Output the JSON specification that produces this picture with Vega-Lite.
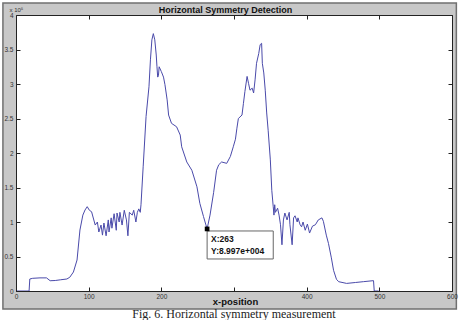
{
  "$schema": "https://vega.github.io/schema/vega-lite/v6.json",
  "width": 436,
  "height": 276,
  "autosize": {"type": "none"},
  "padding": {"left": 16, "top": 15, "right": 8, "bottom": 29},
  "background": "white",
  "config": {
    "view": {"stroke": null},
    "axis": {"grid": false, "labelFont": "Liberation Sans", "titleFont": "Liberation Sans", "domainColor": "#222222", "tickColor": "#222222", "labelColor": "#333333", "labelFontSize": 6.5, "labelFlush": false, "labelOverlap": false}
  },
  "title": {"text": "Fig. 6. Horizontal symmetry measurement", "orient": "bottom", "font": "Liberation Serif", "fontSize": 12, "fontWeight": "normal", "color": "#222222", "anchor": "middle", "offset": -1},
  "datasets": {
    "curve": [
      {"x": 0, "y": 0}, {"x": 18, "y": 0}, {"x": 19, "y": 17400}, {"x": 23, "y": 18400}, {"x": 33, "y": 19000},
      {"x": 42, "y": 19000}, {"x": 47, "y": 14900}, {"x": 54, "y": 15200}, {"x": 61, "y": 16200}, {"x": 70, "y": 17400},
      {"x": 74, "y": 19900}, {"x": 79, "y": 27500}, {"x": 84, "y": 44900}, {"x": 88, "y": 88400}, {"x": 92, "y": 110000},
      {"x": 95, "y": 117400}, {"x": 98, "y": 122200}, {"x": 101, "y": 117000}, {"x": 104, "y": 114900}, {"x": 109, "y": 95600},
      {"x": 112, "y": 100000}, {"x": 114, "y": 85500}, {"x": 117, "y": 95600}, {"x": 119, "y": 81000}, {"x": 121, "y": 98500},
      {"x": 124, "y": 80000}, {"x": 127, "y": 103000}, {"x": 128, "y": 85500}, {"x": 131, "y": 106000}, {"x": 132, "y": 91000},
      {"x": 135, "y": 112000}, {"x": 138, "y": 88000}, {"x": 139, "y": 113000}, {"x": 142, "y": 100000}, {"x": 143, "y": 114000},
      {"x": 146, "y": 95600}, {"x": 149, "y": 117000}, {"x": 152, "y": 103000}, {"x": 154, "y": 80000}, {"x": 156, "y": 114000},
      {"x": 160, "y": 110000}, {"x": 162, "y": 117000}, {"x": 165, "y": 100000}, {"x": 167, "y": 114000}, {"x": 169, "y": 119000},
      {"x": 171, "y": 114000}, {"x": 172, "y": 125000}, {"x": 175, "y": 180000}, {"x": 179, "y": 253000}, {"x": 183, "y": 296000},
      {"x": 185, "y": 335000}, {"x": 187, "y": 364000}, {"x": 189, "y": 373000}, {"x": 191, "y": 364000}, {"x": 193, "y": 342000},
      {"x": 194, "y": 325000}, {"x": 195, "y": 310000}, {"x": 196, "y": 312000}, {"x": 197, "y": 325000}, {"x": 200, "y": 318000},
      {"x": 203, "y": 310000}, {"x": 205, "y": 299000}, {"x": 208, "y": 277000}, {"x": 210, "y": 255000}, {"x": 214, "y": 243000},
      {"x": 221, "y": 238000}, {"x": 226, "y": 226000}, {"x": 228, "y": 209000}, {"x": 235, "y": 187000}, {"x": 242, "y": 175000},
      {"x": 249, "y": 151000}, {"x": 253, "y": 127000}, {"x": 258, "y": 108000}, {"x": 261, "y": 97000}, {"x": 263, "y": 89970},
      {"x": 267, "y": 110000}, {"x": 272, "y": 143000}, {"x": 276, "y": 175000}, {"x": 279, "y": 183000}, {"x": 283, "y": 187000},
      {"x": 290, "y": 185000}, {"x": 295, "y": 195000}, {"x": 299, "y": 209000}, {"x": 302, "y": 220000}, {"x": 304, "y": 236000},
      {"x": 306, "y": 250000}, {"x": 311, "y": 255000}, {"x": 313, "y": 272000}, {"x": 315, "y": 289000}, {"x": 318, "y": 311000},
      {"x": 320, "y": 301000}, {"x": 322, "y": 291000}, {"x": 325, "y": 294000}, {"x": 327, "y": 287000}, {"x": 329, "y": 306000},
      {"x": 331, "y": 330000}, {"x": 334, "y": 344000}, {"x": 336, "y": 357000}, {"x": 338, "y": 359000}, {"x": 339, "y": 330000},
      {"x": 341, "y": 316000}, {"x": 343, "y": 291000}, {"x": 345, "y": 258000}, {"x": 347, "y": 233000}, {"x": 350, "y": 190000},
      {"x": 352, "y": 146000}, {"x": 354, "y": 122000}, {"x": 355, "y": 110000}, {"x": 356, "y": 125000}, {"x": 357, "y": 114000},
      {"x": 360, "y": 120000}, {"x": 362, "y": 110000}, {"x": 364, "y": 96000}, {"x": 366, "y": 67000}, {"x": 368, "y": 103000},
      {"x": 370, "y": 113000}, {"x": 373, "y": 103000}, {"x": 376, "y": 114000}, {"x": 377, "y": 96000}, {"x": 380, "y": 67000},
      {"x": 382, "y": 106000}, {"x": 384, "y": 109000}, {"x": 387, "y": 100000}, {"x": 388, "y": 106000}, {"x": 391, "y": 96000},
      {"x": 393, "y": 93000}, {"x": 395, "y": 100000}, {"x": 398, "y": 88000}, {"x": 401, "y": 97000}, {"x": 404, "y": 84000},
      {"x": 408, "y": 94000}, {"x": 412, "y": 96000}, {"x": 416, "y": 103000}, {"x": 421, "y": 106000}, {"x": 423, "y": 101000},
      {"x": 427, "y": 81000}, {"x": 430, "y": 69000}, {"x": 434, "y": 48000}, {"x": 437, "y": 30000}, {"x": 441, "y": 17000},
      {"x": 444, "y": 13500}, {"x": 455, "y": 11000}, {"x": 467, "y": 12300}, {"x": 478, "y": 13500}, {"x": 492, "y": 15000},
      {"x": 493, "y": 0}, {"x": 499, "y": 0}
    ],
    "tip": [{"x": 263, "y": 89970, "label": "X:263\nY:8.997e+004"}]
  },
  "resolve": {"axis": {"x": "independent", "y": "independent"}},
  "layer": [
    {
      "data": {"values": [{}]},
      "mark": {"type": "rect", "fill": "#c8c8c8", "stroke": "#707070", "strokeWidth": 1.5},
      "encoding": {
        "x": {"datum": -18, "type": "quantitative", "scale": {"domain": [0, 600], "nice": false, "zero": false}, "axis": null},
        "x2": {"datum": 606},
        "y": {"datum": 417400, "type": "quantitative", "scale": {"domain": [0, 400000], "nice": false, "zero": false}, "axis": null},
        "y2": {"datum": -26000}
      }
    },
    {
      "data": {"values": [{}]},
      "mark": {"type": "rect", "fill": "white"},
      "encoding": {
        "x": {"datum": 0, "type": "quantitative", "scale": {"domain": [0, 600], "nice": false, "zero": false}, "axis": null},
        "x2": {"datum": 600},
        "y": {"datum": 400000, "type": "quantitative", "scale": {"domain": [0, 400000], "nice": false, "zero": false}, "axis": null},
        "y2": {"datum": 0}
      }
    },
    {
      "data": {"name": "curve"},
      "mark": {"type": "line", "color": "#4a4aaa", "strokeWidth": 1},
      "encoding": {
        "x": {"field": "x", "type": "quantitative", "scale": {"domain": [0, 600], "nice": false, "zero": false},
          "axis": {"orient": "bottom", "zindex": 2, "values": [0, 100, 200, 300, 400, 500, 600], "labelExpr": "datum.value == 300 ? '' : datum.label", "tickSize": -4, "labelPadding": 6, "labelOverlap": false, "labelFlush": false,
            "title": "x-position", "titleFontWeight": "bold", "titleFontSize": 9.5, "titleColor": "#111111", "titleX": 219, "titleY": 13, "titleBaseline": "alphabetic"}},
        "y": {"field": "y", "type": "quantitative", "scale": {"domain": [0, 400000], "nice": false, "zero": false},
          "axis": {"orient": "left", "zindex": 2, "values": [0, 50000, 100000, 150000, 200000, 250000, 300000, 350000, 400000], "labelExpr": "format(datum.value / 100000, '')", "labelOverlap": false, "labelFlush": false, "tickSize": -4, "labelPadding": 7,
            "title": "x 10⁵", "titleAngle": 0, "titleX": -7, "titleY": -4, "titleAlign": "left", "titleBaseline": "alphabetic", "titleFontSize": 6, "titleFontWeight": "normal", "titleColor": "#333333"}}
      }
    },
    {
      "data": {"name": "tip"},
      "mark": {"type": "rect", "fill": "white", "stroke": "#666666", "strokeWidth": 1},
      "encoding": {
        "x": {"datum": 263, "type": "quantitative", "scale": {"domain": [0, 600], "nice": false, "zero": false}, "axis": null},
        "x2": {"datum": 354},
        "y": {"datum": 87000, "type": "quantitative", "scale": {"domain": [0, 400000], "nice": false, "zero": false}, "axis": null},
        "y2": {"datum": 46400}
      }
    },
    {
      "data": {"name": "tip"},
      "mark": {"type": "text", "align": "left", "baseline": "alphabetic", "dx": 4, "dy": 13, "lineBreak": "\n", "lineHeight": 12, "font": "Liberation Sans", "fontSize": 8.5, "fontWeight": "bold", "color": "#111111"},
      "encoding": {
        "x": {"field": "x", "type": "quantitative", "scale": {"domain": [0, 600], "nice": false, "zero": false}, "axis": null},
        "y": {"field": "y", "type": "quantitative", "scale": {"domain": [0, 400000], "nice": false, "zero": false}, "axis": null},
        "text": {"field": "label", "type": "nominal"}
      }
    },
    {
      "data": {"name": "tip"},
      "mark": {"type": "point", "shape": "square", "filled": true, "color": "black", "size": 22, "opacity": 1},
      "encoding": {
        "x": {"field": "x", "type": "quantitative", "scale": {"domain": [0, 600], "nice": false, "zero": false},
          "axis": {"orient": "top", "zindex": 2, "values": [0, 100, 200, 300, 400, 500, 600], "labels": false, "tickSize": -4,
            "title": "Horizontal Symmetry Detection", "titleFontWeight": "bold", "titleFontSize": 9, "titleColor": "#111111", "titleX": 209, "titleY": -3, "titleBaseline": "alphabetic"}},
        "y": {"field": "y", "type": "quantitative", "scale": {"domain": [0, 400000], "nice": false, "zero": false},
          "axis": {"orient": "right", "zindex": 2, "values": [0, 50000, 100000, 150000, 200000, 250000, 300000, 350000, 400000], "labels": false, "tickSize": -4, "title": null}}
      }
    }
  ]
}
